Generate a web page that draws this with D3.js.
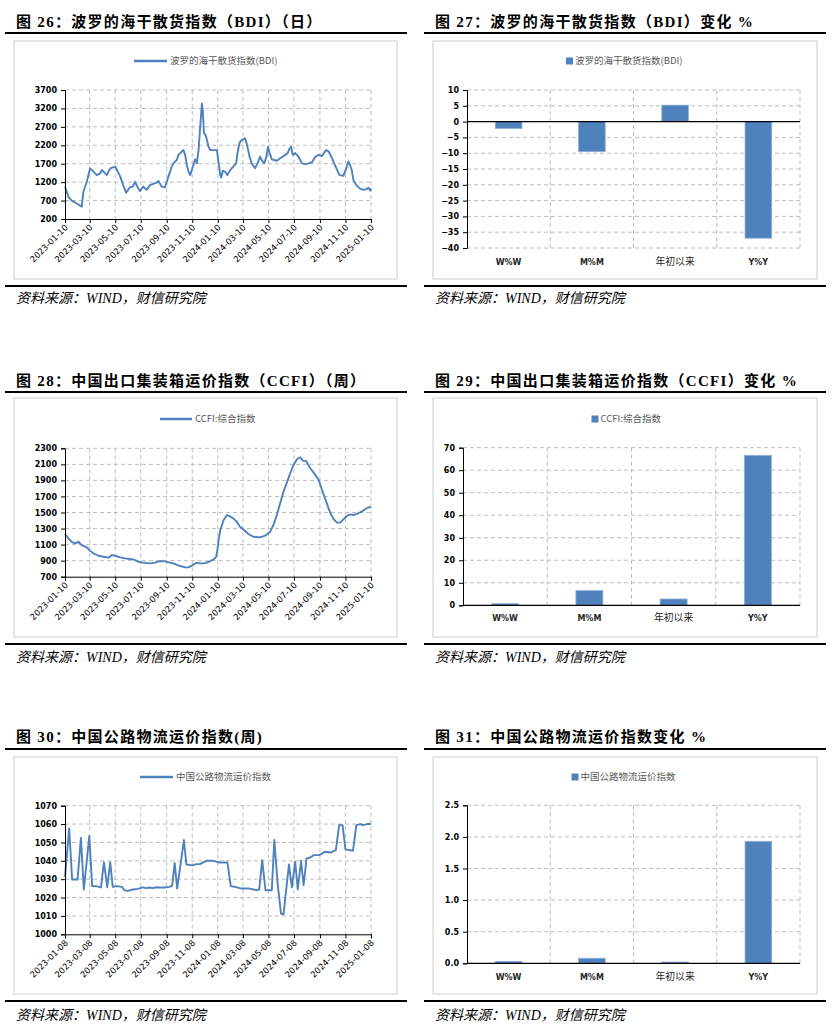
<!DOCTYPE html>
<html><head><meta charset="utf-8">
<script src="https://cdn.jsdelivr.net/npm/d3@7"></script>
<style>
body{margin:0;background:#fff}
.title{font-family:"Liberation Serif","Noto Sans CJK SC",serif;font-weight:bold;font-size:15px;fill:#000;letter-spacing:1.3px}
.src{font-family:"Liberation Serif","Noto Sans CJK SC",serif;font-style:italic;font-size:14px;fill:#000}
.leg{font-family:"Noto Sans CJK SC","DejaVu Sans",sans-serif;font-size:9.5px;fill:#595959}
.ytk text{font-family:"DejaVu Sans",sans-serif;font-weight:bold;font-size:8px;fill:#000}
.xtk text{font-family:"DejaVu Sans",sans-serif;font-size:8.5px;fill:#000}
.cat{font-family:"DejaVu Sans","Noto Sans CJK SC",sans-serif;font-weight:bold;font-size:8px;fill:#262626}
</style>
</head><body>
<svg id="c" width="835" height="1033"></svg>
<script>
// ---------------- DATA ----------------
const dateTicks10 = ["2023-01-10","2023-03-10","2023-05-10","2023-07-10","2023-09-10","2023-11-10","2024-01-10","2024-03-10","2024-05-10","2024-07-10","2024-09-10","2024-11-10","2025-01-10"];
const dateTicks08 = ["2023-01-08","2023-03-08","2023-05-08","2023-07-08","2023-09-08","2023-11-08","2024-01-08","2024-03-08","2024-05-08","2024-07-08","2024-09-08","2024-11-08","2025-01-08"];

const bdiYTicks = [200,700,1200,1700,2200,2700,3200,3700];
const ccfiYTicks = [700,900,1100,1300,1500,1700,1900,2100,2300];
const roadYTicks = [1000,1010,1020,1030,1040,1050,1060,1070];

const bdiDates = ["2023-01-10","2023-01-18","2023-01-26","2023-02-07","2023-02-19","2023-02-23","2023-03-03","2023-03-11","2023-03-19","2023-03-27","2023-04-04","2023-04-08","2023-04-20","2023-04-28","2023-05-10","2023-05-14","2023-05-22","2023-05-29","2023-06-05","2023-06-14","2023-06-21","2023-06-26","2023-07-04","2023-07-08","2023-07-16","2023-07-24","2023-08-01","2023-08-17","2023-08-21","2023-08-29","2023-09-06","2023-09-14","2023-09-22","2023-09-26","2023-10-04","2023-10-08","2023-10-16","2023-10-20","2023-10-24","2023-10-28","2023-11-01","2023-11-05","2023-11-09","2023-11-17","2023-11-21","2023-11-25","2023-11-29","2023-12-03","2023-12-05","2023-12-08","2023-12-12","2023-12-19","2023-12-23","2024-01-08","2024-01-12","2024-01-16","2024-01-18","2024-01-22","2024-01-28","2024-02-02","2024-02-09","2024-02-16","2024-02-23","2024-02-26","2024-03-02","2024-03-07","2024-03-15","2024-03-19","2024-03-26","2024-03-31","2024-04-08","2024-04-14","2024-04-20","2024-04-24","2024-04-30","2024-05-05","2024-05-09","2024-05-13","2024-05-18","2024-05-30","2024-06-07","2024-06-13","2024-06-19","2024-06-25","2024-06-29","2024-07-03","2024-07-07","2024-07-13","2024-07-21","2024-07-29","2024-08-06","2024-08-14","2024-08-22","2024-08-30","2024-09-07","2024-09-15","2024-09-20","2024-09-25","2024-10-01","2024-10-09","2024-10-14","2024-10-21","2024-10-27","2024-11-05","2024-11-12","2024-11-17","2024-11-21","2024-11-25","2024-11-29","2024-12-06","2024-12-14","2024-12-22","2024-12-30","2025-01-04","2025-01-08","2025-01-10"];
const bdiValues = [1080,800,700,620,535,940,1210,1575,1485,1390,1440,1530,1390,1575,1620,1530,1350,1120,915,1060,1080,1210,1030,960,1080,990,1120,1185,1230,1080,1060,1350,1620,1710,1800,1940,2030,2070,1940,1665,1485,1390,1530,1820,1710,2070,2700,3330,3160,2530,2480,2160,2070,2070,1710,1390,1320,1510,1480,1390,1530,1620,1710,1990,2270,2340,2390,2250,1890,1710,1575,1710,1890,1800,1710,1890,2160,1990,1820,1780,1850,1890,1940,1990,2100,2160,1940,1990,1890,1710,1690,1710,1740,1890,1940,1910,2000,2070,2030,1850,1710,1530,1390,1375,1575,1760,1665,1530,1260,1120,1030,990,1010,1050,970,1030];

const ccfiDates = ["2023-01-10","2023-01-18","2023-01-26","2023-02-03","2023-02-11","2023-02-19","2023-03-03","2023-03-11","2023-03-19","2023-03-31","2023-04-12","2023-04-24","2023-05-02","2023-05-10","2023-05-22","2023-06-02","2023-06-14","2023-06-22","2023-07-04","2023-07-16","2023-08-01","2023-08-13","2023-08-25","2023-09-06","2023-09-18","2023-09-30","2023-10-12","2023-10-24","2023-11-01","2023-11-11","2023-11-21","2023-11-29","2023-12-07","2023-12-19","2023-12-31","2024-01-06","2024-01-09","2024-01-12","2024-01-16","2024-01-24","2024-02-01","2024-02-09","2024-02-16","2024-02-24","2024-03-03","2024-03-15","2024-03-23","2024-04-04","2024-04-20","2024-05-02","2024-05-14","2024-05-22","2024-05-30","2024-06-07","2024-06-15","2024-06-23","2024-07-01","2024-07-09","2024-07-17","2024-07-25","2024-07-31","2024-08-08","2024-08-18","2024-08-30","2024-09-07","2024-09-15","2024-09-25","2024-10-05","2024-10-13","2024-10-21","2024-10-29","2024-11-05","2024-11-13","2024-11-21","2024-11-29","2024-12-07","2024-12-19","2024-12-27","2025-01-04","2025-01-10"];
const ccfiValues = [1232,1177,1135,1115,1135,1094,1065,1023,990,961,948,937,969,961,940,928,920,916,887,875,866,875,895,891,875,858,833,816,816,845,875,866,866,883,916,948,1032,1157,1282,1407,1469,1448,1427,1386,1323,1273,1232,1198,1190,1211,1261,1344,1469,1615,1760,1872,1989,2093,2163,2188,2146,2142,2051,1968,1905,1780,1635,1490,1415,1373,1377,1415,1456,1477,1469,1482,1511,1540,1565,1565];

const roadDates = ["2023-01-08","2023-01-18","2023-01-25","2023-02-07","2023-02-15","2023-02-22","2023-03-07","2023-03-14","2023-03-23","2023-04-04","2023-04-11","2023-04-19","2023-04-26","2023-05-02","2023-05-12","2023-05-24","2023-05-30","2023-06-07","2023-06-19","2023-07-01","2023-07-13","2023-07-20","2023-07-29","2023-08-06","2023-08-14","2023-08-22","2023-09-03","2023-09-15","2023-09-21","2023-09-27","2023-10-03","2023-10-19","2023-10-25","2023-11-08","2023-11-18","2023-11-26","2023-12-02","2023-12-12","2023-12-28","2024-01-13","2024-01-31","2024-02-08","2024-02-18","2024-03-05","2024-03-21","2024-04-10","2024-04-16","2024-04-23","2024-05-01","2024-05-16","2024-05-22","2024-05-30","2024-06-07","2024-06-13","2024-06-26","2024-07-03","2024-07-11","2024-07-17","2024-07-25","2024-07-31","2024-08-07","2024-08-16","2024-08-24","2024-09-05","2024-09-11","2024-09-19","2024-10-03","2024-10-16","2024-10-24","2024-11-01","2024-11-08","2024-11-26","2024-12-04","2024-12-14","2024-12-19","2024-12-30","2025-01-08"];
const roadValues = [1031.3,1057.6,1029.8,1029.8,1052.5,1024.4,1053.5,1026.2,1026.2,1025.5,1039.3,1025.5,1039.3,1025.8,1026.2,1025.8,1024.0,1023.6,1024.4,1024.7,1025.5,1025.1,1025.5,1025.1,1025.6,1025.5,1025.5,1025.8,1026.5,1038.9,1024.9,1051.3,1038.0,1037.5,1038.2,1038.2,1038.9,1040.0,1040.0,1039.1,1039.1,1026.2,1025.8,1024.9,1025.0,1024.0,1024.4,1040.4,1024.0,1024.0,1051.3,1027.6,1011.3,1010.9,1038.0,1025.5,1039.5,1024.4,1040.0,1026.7,1041.3,1041.8,1043.1,1043.1,1043.6,1044.9,1044.5,1045.8,1059.4,1059.4,1046.2,1045.5,1059.4,1060.0,1059.4,1060.0,1060.0];

const barCategories = ["W%W","M%M","年初以来","Y%Y"];
const bdiChange = [-2.2,-9.5,5.2,-36.9];
const ccfiChange = [0.7,6.5,2.8,66.6];
const roadChange = [0.03,0.08,0.02,1.93];
const bdiChangeTicks = [-40,-35,-30,-25,-20,-15,-10,-5,0,5,10];
const ccfiChangeTicks = [0,10,20,30,40,50,60,70];
const roadChangeTicks = [0,0.5,1.0,1.5,2.0,2.5];

// ---------------- DRAW ----------------
const svg = d3.select("#c");
const parse = d3.timeParse("%Y-%m-%d");
const BLUE = "#4F81BD", GRID = "#BDBDBD", DASH = "4,3";

function frame(f){
  svg.append("text").attr("class","title").attr("x",f.tx).attr("y",f.ty).text(f.title);
  svg.append("rect").attr("x",f.rx0).attr("y",f.ruleTop-1).attr("width",f.rx1-f.rx0).attr("height",2).attr("fill","#000");
  svg.append("rect").attr("x",f.bx0).attr("y",f.by0).attr("width",f.bx1-f.bx0).attr("height",f.by1-f.by0)
     .attr("fill","#fff").attr("stroke","#D9D9D9").attr("stroke-width",1.3);
  svg.append("rect").attr("x",f.rx0).attr("y",f.ruleBot-1).attr("width",f.rx1-f.rx0).attr("height",2).attr("fill","#000");
  svg.append("text").attr("class","src").attr("x",f.tx).attr("y",f.sy).text("资料来源：WIND，财信研究院");
}

function lineLegend(lg){
  svg.append("line").attr("x1",lg.x0).attr("x2",lg.x1).attr("y1",lg.y).attr("y2",lg.y)
     .attr("stroke",BLUE).attr("stroke-width",2.5);
  svg.append("text").attr("class","leg").attr("x",lg.x1+3).attr("y",lg.y).attr("dy","0.35em").text(lg.label);
}
function barLegend(lg){
  svg.append("rect").attr("x",lg.x0).attr("y",lg.y-3.5).attr("width",7).attr("height",7).attr("fill",BLUE);
  svg.append("text").attr("class","leg").attr("x",lg.x0+9).attr("y",lg.y).attr("dy","0.35em").text(lg.label);
}

function linePanel(p, dates, values, yTicks, xTicks){
  const x = d3.scaleTime().domain([parse(xTicks[0]), parse(xTicks[xTicks.length-1])]).range([p.l,p.r]);
  const y = d3.scaleLinear().domain([yTicks[0], yTicks[yTicks.length-1]]).range([p.b,p.t]);
  const g = svg.append("g");
  g.selectAll(null).data(yTicks.slice(1)).join("line")
    .attr("x1",p.l).attr("x2",p.r).attr("y1",d=>y(d)).attr("y2",d=>y(d))
    .attr("stroke",GRID).attr("stroke-dasharray",DASH);
  g.selectAll(null).data(xTicks.slice(1)).join("line")
    .attr("x1",d=>x(parse(d))).attr("x2",d=>x(parse(d))).attr("y1",p.t).attr("y2",p.b)
    .attr("stroke",GRID).attr("stroke-dasharray",DASH);
  const pts = dates.map((d,i)=>[parse(d), values[i]]);
  g.append("path").datum(pts)
    .attr("d", d3.line().x(d=>x(d[0])).y(d=>y(d[1])))
    .attr("fill","none").attr("stroke",BLUE).attr("stroke-width",1.9).attr("stroke-linejoin","round");
  const ya = g.append("g").attr("class","ytk").attr("transform",`translate(${p.l},0)`)
    .call(d3.axisLeft(y).tickValues(yTicks).tickSize(4).tickPadding(4).tickFormat(d3.format("d")));
  ya.select(".domain").attr("stroke","#000");
  ya.selectAll(".tick line").attr("stroke","#000");
  const xa = g.append("g").attr("class","xtk").attr("transform",`translate(0,${p.b})`)
    .call(d3.axisBottom(x).tickValues(xTicks.map(parse)).tickSize(4).tickFormat(d3.timeFormat("%Y-%m-%d")));
  xa.select(".domain").attr("stroke","#000");
  xa.selectAll(".tick line").attr("stroke","#000");
  xa.selectAll(".tick text").attr("text-anchor","end").attr("y",0).attr("dy",0)
    .attr("transform","translate(3,9) rotate(-45)");
}

function barPanel(p, values, ticks, fmt){
  const x = d3.scaleBand().domain(barCategories).range([p.l,p.r]);
  const y = d3.scaleLinear().domain([ticks[0], ticks[ticks.length-1]]).range([p.b,p.t]);
  const g = svg.append("g");
  g.selectAll(null).data(ticks.filter(t=>t!==0)).join("line")
    .attr("x1",p.l).attr("x2",p.r).attr("y1",d=>y(d)).attr("y2",d=>y(d))
    .attr("stroke",GRID).attr("stroke-dasharray",DASH);
  g.selectAll(null).data(barCategories).join("line")
    .attr("x1",d=>x(d)+x.bandwidth()).attr("x2",d=>x(d)+x.bandwidth()).attr("y1",p.t).attr("y2",p.b)
    .attr("stroke",GRID).attr("stroke-dasharray",DASH);
  const bw = x.bandwidth()*0.32;
  g.selectAll(null).data(barCategories).join("rect")
    .attr("x",d=>x(d)+x.bandwidth()/2-bw/2).attr("width",bw)
    .attr("y",(d,i)=>Math.min(y(values[i]),y(0)))
    .attr("height",(d,i)=>Math.abs(y(values[i])-y(0)))
    .attr("fill",BLUE).attr("stroke","#8FAEDB").attr("stroke-width",0.8);
  g.append("line").attr("x1",p.l).attr("x2",p.r).attr("y1",y(0)).attr("y2",y(0)).attr("stroke","#000").attr("stroke-width",1.2);
  const ya = g.append("g").attr("class","ytk").attr("transform",`translate(${p.l},0)`)
    .call(d3.axisLeft(y).tickValues(ticks).tickSize(4).tickPadding(4).tickFormat(fmt));
  ya.select(".domain").attr("stroke","#000");
  ya.selectAll(".tick line").attr("stroke","#000");
  g.selectAll(null).data(barCategories).join("text").attr("class","cat")
    .attr("x",d=>x(d)+x.bandwidth()/2).attr("y",p.ly).attr("text-anchor","middle")
    .style("font-size",d=>/[\u4e00-\u9fff]/.test(d)?"9.8px":null)
    .style("font-weight",d=>/[\u4e00-\u9fff]/.test(d)?"normal":null)
    .text(d=>d);
}

const L = {tx:16, rx0:5, rx1:407, bx0:14, bx1:397};
const R = {tx:435, rx0:424, rx1:826, bx0:433, bx1:817};
const rows = [
  {ty:27, ruleTop:33, by0:41, by1:279, ruleBot:286, sy:303},
  {ty:386, ruleTop:392, by0:398, by1:637, ruleBot:644, sy:662},
  {ty:742, ruleTop:749, by0:757, by1:994, ruleBot:1001, sy:1020}
];

frame({...L, ...rows[0], title:"图 26：波罗的海干散货指数（BDI）（日）"});
frame({...R, ...rows[0], title:"图 27：波罗的海干散货指数（BDI）变化 %"});
frame({...L, ...rows[1], title:"图 28：中国出口集装箱运价指数（CCFI）（周）"});
frame({...R, ...rows[1], title:"图 29：中国出口集装箱运价指数（CCFI）变化 %"});
frame({...L, ...rows[2], title:"图 30：中国公路物流运价指数(周)"});
frame({...R, ...rows[2], title:"图 31：中国公路物流运价指数变化 %"});

lineLegend({x0:134, x1:167, y:61, label:"波罗的海干散货指数(BDI)"});
barLegend({x0:566, y:61, label:"波罗的海干散货指数(BDI)"});
lineLegend({x0:160, x1:192, y:419, label:"CCFI:综合指数"});
barLegend({x0:591.5, y:419, label:"CCFI:综合指数"});
lineLegend({x0:140, x1:173, y:777, label:"中国公路物流运价指数"});
barLegend({x0:571.5, y:777, label:"中国公路物流运价指数"});

linePanel({l:65, r:371, t:90, b:219}, bdiDates, bdiValues, bdiYTicks, dateTicks10);
linePanel({l:65, r:371, t:448.3, b:576.7}, ccfiDates, ccfiValues, ccfiYTicks, dateTicks10);
linePanel({l:65, r:371, t:805.7, b:934.3}, roadDates, roadValues, roadYTicks, dateTicks08);

barPanel({l:467, r:800, t:90, b:248, ly:265}, bdiChange, bdiChangeTicks, d3.format("d"));
barPanel({l:463, r:800, t:447.7, b:605.3, ly:621}, ccfiChange, ccfiChangeTicks, d3.format("d"));
barPanel({l:467, r:800, t:805.3, b:963.3, ly:980}, roadChange, roadChangeTicks, d3.format(".1f"));
</script>
</body></html>
